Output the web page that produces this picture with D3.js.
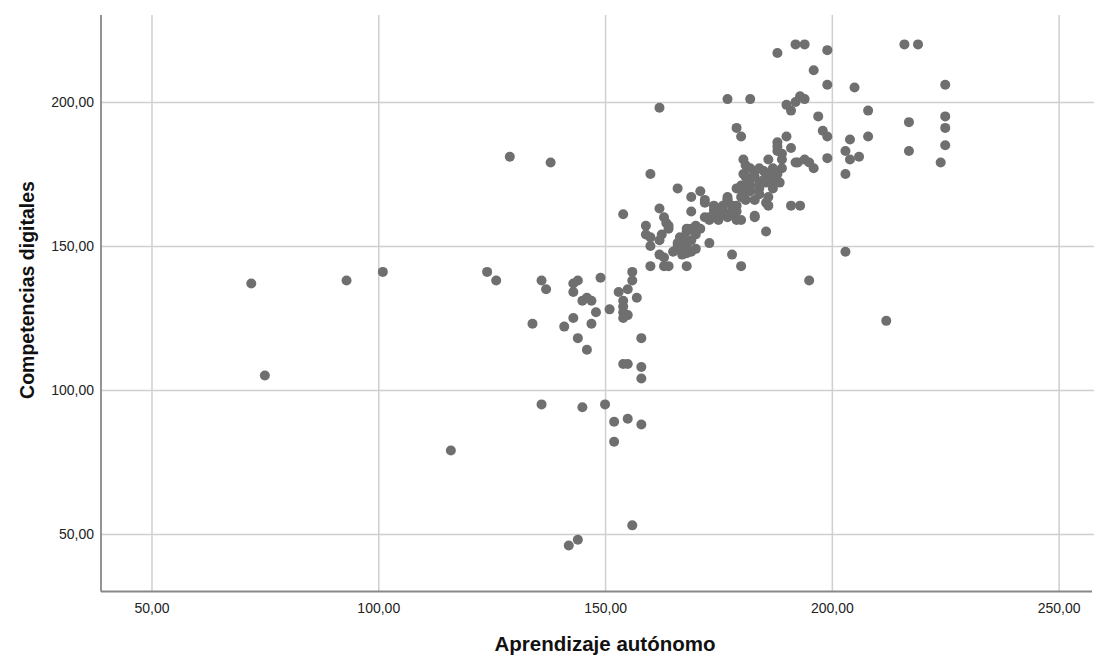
<!DOCTYPE html>
<html>
<head>
<meta charset="utf-8">
<script src="https://cdn.jsdelivr.net/npm/d3@7"></script>
<style>
  body { margin: 0; background: #fff; }
  text { font-family: "Liberation Sans", Arial, sans-serif; }
</style>
</head>
<body>
<div id="chart"></div>
<script>
// Values: Aprendizaje autónomo (x) vs Competencias digitales (y)
const aprendizaje = [
  72, 75, 93, 101, 116, 124, 126, 129, 138, 134, 136, 137, 144, 143, 143, 149, 145, 146, 147, 148,
  143, 141, 147, 144, 146, 151, 153, 155, 156, 156, 157, 154, 154, 154, 155, 154, 158, 154, 155, 158,
  158, 160, 136, 145, 150, 152, 155, 158, 152, 156, 144, 142,
  160, 166, 154, 162, 163, 159, 159, 160, 160, 162, 162.5, 164, 164, 162, 163, 164, 168, 167, 166.5, 168,
  169, 170, 169, 170, 168, 167, 166, 173, 178, 169, 171, 169, 172, 174, 175, 177, 178, 179, 173, 175,
  172, 175, 177, 179, 180, 180.5, 181, 183, 185.5, 184, 185.5, 163.5, 168, 166, 168, 169, 180, 163,
  191, 197, 179, 180, 190, 191, 188, 188, 198, 192.5, 194, 195, 196, 199, 180.5, 181, 183, 185, 186, 187,
  188, 188.5, 187, 185.5, 184, 182, 180.5, 180, 182, 184, 186, 186, 181, 180, 177, 176, 178, 183, 191, 193,
  188, 188, 192, 194, 199, 196, 199, 205, 216, 219, 225, 177, 182, 190, 192, 193, 194, 208, 217, 225,
  225, 225, 217, 224, 199, 208, 189, 192, 203, 204, 204, 206, 203, 195, 212, 203, 162, 171, 172, 174,
  173, 176, 177, 179,
  181, 183, 185, 182, 186, 184, 182, 179, 187, 183, 178, 176, 174, 168, 167, 170, 165, 189, 189
];
const competencias = [
  137, 105, 138, 141, 79, 141, 138, 181, 179, 123, 138, 135, 138, 137, 134, 139, 131, 132, 131, 127,
  125, 122, 123, 118, 114, 128, 134, 135, 141, 138, 132, 131, 129, 127, 126, 125, 118, 109, 109, 108,
  104, 143, 95, 94, 95, 89, 90, 88, 82, 53, 48, 46,
  175, 170, 161, 163, 160, 157, 154, 153, 150, 152, 154, 156, 157, 147, 146, 143, 143, 150, 153, 155,
  156, 157, 152, 149, 147.5, 147, 150, 151, 147, 167, 169, 162, 165, 162.5, 160, 167, 164, 159, 159, 163,
  160, 159, 160, 162, 159, 168, 171, 160, 155, 170, 165, 158, 156, 151, 150, 148, 143, 143,
  197, 195, 191, 188, 188, 184, 186, 183, 190, 179, 180, 179, 177, 180.5, 180, 178, 176, 176, 180, 177,
  175, 172, 170, 172, 172, 173.5, 175, 171, 169, 168, 167, 164, 166, 167, 166, 162.5, 161, 160.5, 164, 164,
  184.5, 217, 220, 220, 218, 211, 206, 205, 220, 220, 206, 201, 201, 199, 200, 202, 201, 197, 193, 195,
  191, 185, 183, 179, 188, 188, 182, 179, 183, 187, 180, 181, 175, 138, 124, 148, 198, 156, 166, 164,
  160, 161, 166, 164,
  174, 174, 173, 171, 175, 177, 177, 170, 173, 166, 162, 164, 161, 152, 149, 154, 148, 180, 177
];
const xTicks = [50, 100, 150, 200, 250];
const yTicks = [50, 100, 150, 200];

const points = aprendizaje.map((v, i) => ({ x: v, y: competencias[i] }));

const width = 1094, height = 657;
const margin = { top: 15, right: 0, bottom: 65.5, left: 101 };
const plotW = width - margin.left - margin.right,
      plotH = height - margin.top - margin.bottom;

const svg = d3.select("#chart")
  .append("svg")
  .attr("width", width)
  .attr("height", height);

const g = svg.append("g")
  .attr("transform", `translate(${margin.left},${margin.top})`);

// Scales (domain padded so the round ticks fall where they sit in the picture)
const x = d3.scaleLinear().domain([38.87, 257.8]).range([0, plotW]);
const y = d3.scaleLinear().domain([30.03, 230.2]).range([plotH, 0]);

// comma decimal format, e.g. 150,00
const locale = d3.formatLocale({ decimal: ",", thousands: ".", grouping: [3], currency: ["", ""] });
const fmt = locale.format(".2f");

// X axis with full-height grid lines
const xAxis = g.append("g")
  .attr("transform", `translate(0,${plotH})`)
  .call(d3.axisBottom(x).tickValues(xTicks).tickSize(-plotH).tickPadding(12).tickFormat(fmt));
xAxis.select(".domain").remove();
xAxis.selectAll("line").attr("stroke", "#cfcfcf").attr("stroke-width", 1.5);
xAxis.selectAll("text").attr("fill", "#222").style("font-size", "14px");

// Y axis with full-width grid lines
const yAxis = g.append("g")
  .call(d3.axisLeft(y).tickValues(yTicks).tickSize(-plotW).tickPadding(7).tickFormat(fmt));
yAxis.select(".domain").remove();
yAxis.selectAll("line").attr("stroke", "#cfcfcf").attr("stroke-width", 1.5);
yAxis.selectAll("text").attr("fill", "#222").style("font-size", "14px");

// Axis lines
g.append("line")
  .attr("x1", 0).attr("x2", 0).attr("y1", 0).attr("y2", plotH)
  .attr("stroke", "#888").attr("stroke-width", 1.8);
g.append("line")
  .attr("x1", 0).attr("x2", plotW - 2).attr("y1", plotH).attr("y2", plotH)
  .attr("stroke", "#888").attr("stroke-width", 1.8);

// Points
g.selectAll(".dot")
  .data(points)
  .enter()
  .append("circle")
  .attr("class", "dot")
  .attr("cx", d => x(d.x))
  .attr("cy", d => y(d.y))
  .attr("r", 5)
  .attr("fill", "#6f6f6f");

// Axis titles
svg.append("text")
  .attr("x", 605)
  .attr("y", 651)
  .attr("text-anchor", "middle")
  .style("font-size", "20.5px")
  .style("font-weight", "bold")
  .attr("fill", "#111")
  .text("Aprendizaje autónomo");

svg.append("text")
  .attr("transform", "translate(34,290) rotate(-90)")
  .attr("text-anchor", "middle")
  .style("font-size", "19.5px")
  .style("font-weight", "bold")
  .attr("fill", "#111")
  .text("Competencias digitales");
</script>
</body>
</html>
